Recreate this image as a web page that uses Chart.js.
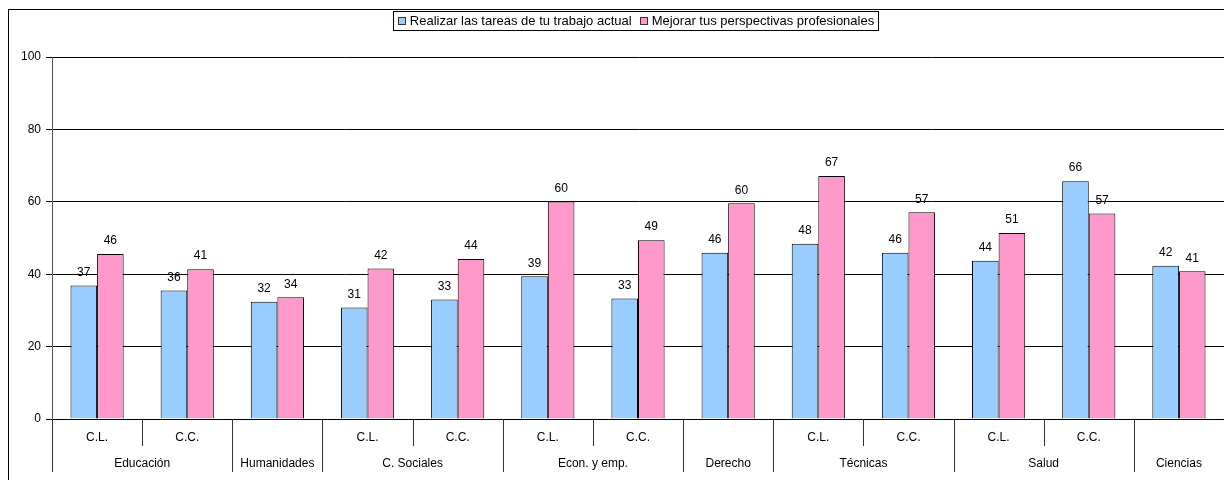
<!DOCTYPE html>
<html>
<head>
<meta charset="utf-8">
<script src="https://cdn.jsdelivr.net/npm/chart.js@4"></script>
<style>
  html, body { margin: 0; padding: 0; background: #fff; overflow: hidden; }
  canvas { display: block; }
</style>
</head>
<body>
<canvas id="chart" width="1224" height="480"></canvas>
<script>
// =============================
// DATA
// =============================
const subLabels = ["C.L.", "C.C.", "", "C.L.", "C.C.", "C.L.", "C.C.", "", "C.L.", "C.C.", "C.L.", "C.C.", ""];
const groupLabels = ["Educación", "Educación", "Humanidades", "C. Sociales", "C. Sociales",
  "Econ. y emp.", "Econ. y emp.", "Derecho", "Técnicas", "Técnicas", "Salud", "Salud", "Ciencias"];

const tareas = [36.9, 35.5, 32.4, 30.8, 33.0, 39.4, 33.3, 45.9, 48.4, 45.9, 43.7, 65.7, 42.3];
const perspectivas = [45.6, 41.4, 33.6, 41.6, 44.2, 60.1, 49.4, 59.6, 67.1, 57.1, 51.4, 56.8, 40.8];

const seriesNames = ["Realizar las tareas de tu trabajo actual", "Mejorar tus perspectivas profesionales"];
const seriesColors = ["#99ccff", "#ff99cc"];
const yTicks = [0, 20, 40, 60, 80, 100];

const FONT = "12px 'Liberation Sans', Arial, sans-serif";
const LEGEND_FONT = "13px 'Liberation Sans', Arial, sans-serif";

// =============================
// Plugins
// =============================
const decorations = {
  id: "decorations",
  afterDatasetsDraw(chart) {
    const ctx = chart.ctx;
    ctx.save();
    ctx.font = FONT;
    ctx.fillStyle = "#000";
    ctx.textAlign = "center";
    ctx.textBaseline = "middle";
    chart.data.datasets.forEach((ds, di) => {
      chart.getDatasetMeta(di).data.forEach((bar, i) => {
        ctx.fillText(Math.round(ds.data[i]), bar.x, bar.y - 13);
      });
    });
    ctx.restore();
  },
  afterDraw(chart) {
    const ctx = chart.ctx;
    const x = chart.scales.x;
    const area = chart.chartArea;
    const n = subLabels.length;
    const slot = (x.right - x.left) / n;
    ctx.save();

    // outer border
    ctx.strokeStyle = "#000";
    ctx.lineWidth = 1;
    ctx.strokeRect(8.5, 9.5, 2000, 2000);

    // two-level category axis
    ctx.font = FONT;
    ctx.fillStyle = "#000";
    ctx.textAlign = "center";
    ctx.textBaseline = "middle";
    ctx.strokeStyle = "#333";
    for (let i = 0; i <= n; i++) {
      const bx = Math.round(x.getPixelForValue(i) - slot / 2) + 0.5;
      const groupEdge = i === 0 || i === n || groupLabels[i] !== groupLabels[i - 1];
      ctx.beginPath();
      ctx.moveTo(bx, area.bottom);
      ctx.lineTo(bx, groupEdge ? area.bottom + 53 : area.bottom + 27);
      ctx.stroke();
    }
    let start = 0;
    for (let i = 0; i < n; i++) {
      if (subLabels[i]) ctx.fillText(subLabels[i], x.getPixelForValue(i), area.bottom + 19);
      if (i === n - 1 || groupLabels[i + 1] !== groupLabels[i]) {
        const cx = (x.getPixelForValue(start) + x.getPixelForValue(i)) / 2;
        ctx.fillText(groupLabels[i], cx, area.bottom + 45);
        start = i + 1;
      }
    }

    // legend with frame
    ctx.font = LEGEND_FONT;
    ctx.textAlign = "left";
    const gap = 8, box = 8;
    const widths = seriesNames.map(s => ctx.measureText(s).width);
    const total = widths.reduce((a, w) => a + box + 4 + w, 0) + gap;
    let lx = 636 - total / 2;
    const ly = 21;
    ctx.strokeStyle = "#000";
    ctx.strokeRect(Math.round(lx - 5) + 0.5, 11.5, Math.round(total + 9), 19);
    seriesNames.forEach((s, k) => {
      ctx.fillStyle = seriesColors[k];
      ctx.fillRect(Math.round(lx) + 0.5, ly - 4 + 0.5, box - 1, box - 1);
      ctx.strokeStyle = "#333";
      ctx.strokeRect(Math.round(lx) + 0.5, ly - 4 + 0.5, box - 1, box - 1);
      ctx.fillStyle = "#000";
      ctx.fillText(s, lx + box + 4, ly);
      lx += box + 4 + widths[k] + gap;
    });
    ctx.restore();
  }
};

// =============================
// Chart
// =============================
new Chart(document.getElementById("chart"), {
  type: "bar",
  data: {
    labels: subLabels.map((s, i) => s || groupLabels[i]),
    datasets: [
      { label: seriesNames[0], data: tareas, backgroundColor: seriesColors[0] },
      { label: seriesNames[1], data: perspectivas, backgroundColor: seriesColors[1] }
    ]
  },
  options: {
    responsive: false,
    animation: false,
    layout: { padding: { top: 57, right: 0, bottom: 0, left: 0 } },
    datasets: {
      bar: {
        borderColor: "#000",
        borderWidth: 1,
        categoryPercentage: 0.59,
        barPercentage: 1
      }
    },
    plugins: { legend: { display: false }, tooltip: { enabled: false } },
    scales: {
      x: {
        grid: { display: false },
        border: { display: true, color: "#000" },
        ticks: { display: false },
        afterFit: s => { s.height = 61; }
      },
      y: {
        min: 0,
        max: 100,
        afterFit: s => { s.width = 52; },
        afterBuildTicks: s => { s.ticks = yTicks.map(v => ({ value: v })); },
        grid: { color: "#000", tickLength: 6, drawTicks: true },
        border: { color: "#555" },
        ticks: {
          padding: 5,
          color: "#000",
          font: { family: "'Liberation Sans', Arial, sans-serif", size: 12 }
        }
      }
    }
  },
  plugins: [decorations]
});
</script>
</body>
</html>
